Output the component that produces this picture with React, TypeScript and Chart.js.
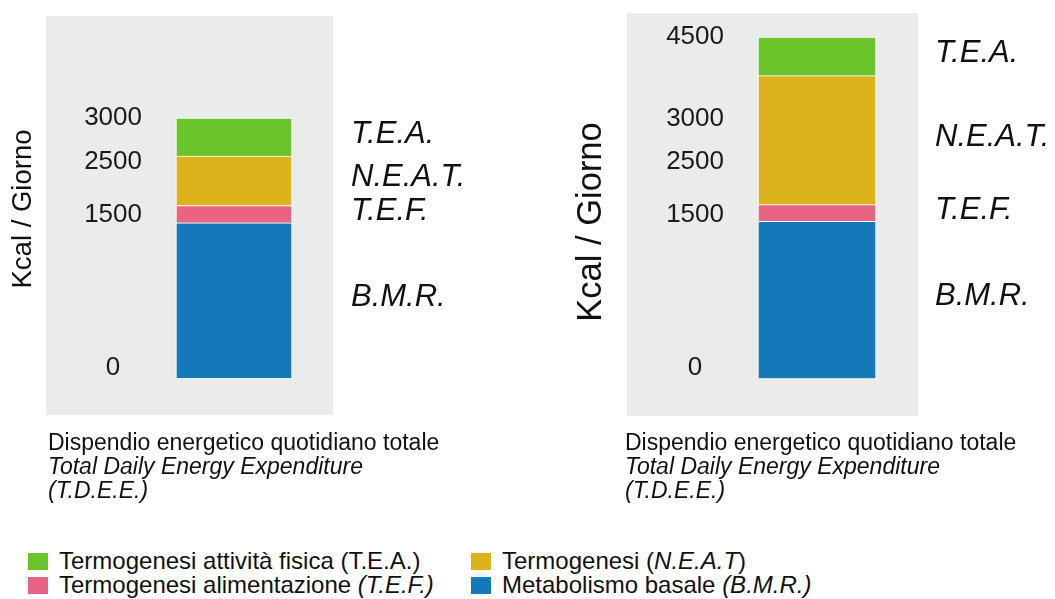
import React, { useEffect, useRef } from "react";
import { Chart, registerables } from "chart.js";

Chart.register(...registerables);

const FONT = '"Liberation Sans", Arial, Helvetica, sans-serif';

// Components of daily energy expenditure, stacked bottom to top
const components = ["B.M.R.", "T.E.F.", "N.E.A.T.", "T.E.A."];
const componentColors = ["#1479b8", "#e86384", "#ddb31b", "#6cc42b"];

// kcal per day for each component
const sedentaryKcal = [1790, 200, 570, 440]; // total 3000
const activeKcal = [2070, 220, 1700, 510]; // total 4500

// Axis labels and where each one sits on the (schematic) kcal axis
const sedentaryTickLabels = ["0", "1500", "2500", "3000"];
const sedentaryTickAt = [115, 1880, 2490, 3000];
const activeTickLabels = ["0", "1500", "2500", "3000", "4500"];
const activeTickAt = [135, 2150, 2850, 3420, 4500];

const AXIS_TITLE = "Kcal / Giorno";

// Writes each component's name to the right of its segment
const segmentLabels = {
  id: "segmentLabels",
  afterDatasetsDraw(chart: any) {
    const { ctx, chartArea } = chart;
    ctx.save();
    ctx.font = `italic 31px ${FONT}`;
    ctx.fillStyle = "#111111";
    ctx.textAlign = "left";
    ctx.textBaseline = "middle";
    chart.data.datasets.forEach((ds: any, i: number) => {
      const bar = chart.getDatasetMeta(i).data[0];
      if (!bar) return;
      const { y, base } = bar.getProps(["y", "base"], true);
      ctx.fillText(ds.label, chartArea.right + 25, (y + base) / 2 - 3);
    });
    ctx.restore();
  },
};

type PanelProps = {
  left: number;
  width: number;
  height: number;
  values: number[];
  tickAt: number[];
  tickLabels: string[];
  yMin: number;
  yMax: number;
  padding: { top: number; bottom: number; left: number; right: number };
  axisWidth: number;
  titleSize: number;
  titlePad: number;
  barThickness: number;
};

function Panel(p: PanelProps) {
  const ref = useRef<HTMLCanvasElement | null>(null);

  useEffect(() => {
    if (!ref.current) return;
    const chart = new Chart(ref.current, {
      type: "bar",
      data: {
        labels: ["TDEE"],
        datasets: components.map((name, i) => ({
          label: name,
          data: [p.values[i]],
          backgroundColor: componentColors[i],
          borderColor: "#ffffff",
          borderWidth: 1,
          barThickness: p.barThickness,
          stack: "tdee",
        })),
      },
      options: {
        responsive: false,
        animation: false,
        layout: { padding: p.padding },
        plugins: {
          legend: { display: false },
          tooltip: { enabled: false },
        },
        scales: {
          x: { display: false, stacked: true },
          y: {
            stacked: true,
            min: p.yMin,
            max: p.yMax,
            grid: { display: false, drawTicks: false },
            border: { display: false },
            afterBuildTicks: (scale: any) => {
              scale.ticks = p.tickAt.map((v) => ({ value: v }));
            },
            afterFit: (scale: any) => {
              scale.width = p.axisWidth;
            },
            ticks: {
              autoSkip: false,
              padding: 0,
              crossAlign: "center",
              color: "#1a1a1a",
              font: { family: FONT, size: 26 },
              callback: (_v: any, i: number) => p.tickLabels[i],
            },
            title: {
              display: true,
              text: AXIS_TITLE,
              color: "#111111",
              font: { family: FONT, size: p.titleSize },
              padding: { top: p.titlePad, bottom: 0 },
            },
          },
        },
      } as any,
      plugins: [segmentLabels],
    });
    return () => chart.destroy();
  }, []);

  return (
    <canvas
      ref={ref}
      width={p.width}
      height={p.height}
      style={{ position: "absolute", left: p.left, top: 0, width: p.width, height: p.height }}
    />
  );
}

function Caption({ left }: { left: number }) {
  return (
    <div
      style={{
        position: "absolute",
        left,
        top: 430,
        fontSize: 23,
        lineHeight: "24.2px",
        whiteSpace: "nowrap",
        color: "#111111",
      }}
    >
      <div>Dispendio energetico quotidiano totale</div>
      <div style={{ fontStyle: "italic" }}>Total Daily Energy Expenditure</div>
      <div style={{ fontStyle: "italic" }}>(T.D.E.E.)</div>
    </div>
  );
}

function LegendItem({
  left,
  top,
  color,
  children,
}: {
  left: number;
  top: number;
  color: string;
  children: React.ReactNode;
}) {
  return (
    <div
      style={{
        position: "absolute",
        left,
        top,
        height: 24,
        display: "flex",
        alignItems: "center",
        whiteSpace: "nowrap",
        fontSize: 24,
        lineHeight: "24px",
        color: "#111111",
      }}
    >
      <span style={{ display: "inline-block", width: 20, height: 17, background: color, marginRight: 11 }} />
      <span>{children}</span>
    </div>
  );
}

export default function App() {
  return (
    <div
      style={{
        position: "absolute",
        left: 0,
        top: 0,
        width: 1055,
        height: 599,
        overflow: "hidden",
        background: "#ffffff",
        fontFamily: FONT,
      }}
    >
      <div style={{ position: "absolute", left: 46, top: 16, width: 287, height: 399, background: "#eaebeb" }} />
      <div style={{ position: "absolute", left: 627, top: 13, width: 291, height: 403, background: "#eaebeb" }} />

      <Panel
        left={0}
        width={500}
        height={430}
        values={sedentaryKcal}
        tickAt={sedentaryTickAt}
        tickLabels={sedentaryTickLabels}
        yMin={0}
        yMax={3900}
        padding={{ top: 40, bottom: 52, left: 0, right: 174 }}
        axisWidth={142}
        titleSize={27.5}
        titlePad={7}
        barThickness={116}
      />
      <Panel
        left={560}
        width={495}
        height={430}
        values={activeKcal}
        tickAt={activeTickAt}
        tickLabels={activeTickLabels}
        yMin={-380}
        yMax={4500}
        padding={{ top: 37, bottom: 23, left: 0, right: 145 }}
        axisWidth={164}
        titleSize={34.5}
        titlePad={11}
        barThickness={118}
      />

      <Caption left={48} />
      <Caption left={625} />

      <LegendItem left={28} top={549} color={componentColors[3]}>
        Termogenesi attività fisica (T.E.A.)
      </LegendItem>
      <LegendItem left={28} top={573} color={componentColors[1]}>
        Termogenesi alimentazione <i>(T.E.F.)</i>
      </LegendItem>
      <LegendItem left={471} top={549} color={componentColors[2]}>
        Termogenesi (<i>N.E.A.T</i>)
      </LegendItem>
      <LegendItem left={471} top={573} color={componentColors[0]}>
        Metabolismo basale <i>(B.M.R.)</i>
      </LegendItem>
    </div>
  );
}
